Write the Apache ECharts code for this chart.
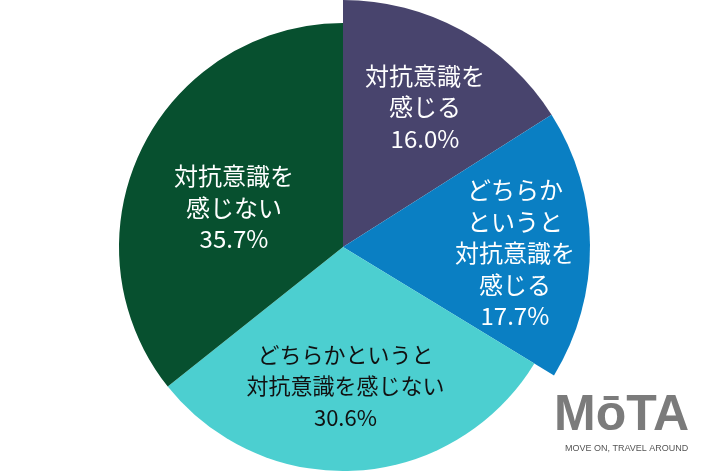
<!DOCTYPE html>
<html>
<head>
<meta charset="utf-8">
<script src="https://cdn.jsdelivr.net/npm/echarts@6/dist/echarts.min.js"></script>
<style>html,body{margin:0;padding:0;background:#fff;}#c{width:710px;height:473px;}</style>
</head>
<body>
<div id="c"></div>
<script>
const categories = ['対抗意識を\n感じる', 'どちらか\nというと\n対抗意識を\n感じる', 'どちらかというと\n対抗意識を感じない', '対抗意識を\n感じない'];
const values = [16.0, 17.7, 30.6, 35.7];
const colors = ['#48446d', '#0a7fc3', '#4ccfd0', '#07502f'];
const textColors = ['#ffffff', '#ffffff', '#111111', '#ffffff'];

const CX = 343, CY = 247;
const R_BIG = 247, R_SMALL = 224;
const labelR = [162, 172, 139, 116];
const labelAngleAdj = [1.6, 2.5, 2.6, -5.8];
const labelSizes = [24, 24, 22, 24];
const total = values.reduce((a, b) => a + b, 0);
const midAngles = [];
let acc = 0;
values.forEach(v => { midAngles.push((acc + v / 2) / total * 2 * Math.PI); acc += v; });

function makeData(showIdx) {
  return values.map((v, i) => {
    const show = showIdx.indexOf(i) >= 0;
    return {
      value: v,
      name: categories[i],
      itemStyle: { color: show ? colors[i] : 'rgba(0,0,0,0)' },
      label: { show: show, color: textColors[i], fontSize: labelSizes[i] }
    };
  });
}

function layout(params) {
  const i = params.dataIndex;
  const a = midAngles[i] + labelAngleAdj[i] * Math.PI / 180;
  return {
    x: CX + labelR[i] * Math.sin(a),
    y: CY - labelR[i] * Math.cos(a),
    align: 'center',
    verticalAlign: 'middle'
  };
}

const labelCfg = {
  position: 'inside',
  fontFamily: '"Noto Sans CJK JP", "Noto Sans", sans-serif',
  fontSize: 24,
  lineHeight: 31.5,
  align: 'center',
  formatter: p => p.name + '\n' + p.value.toFixed(1) + '%'
};

const chart = echarts.init(document.getElementById('c'), null, { renderer: 'canvas' });
chart.setOption({
  animation: false,
  series: [
    {
      type: 'pie', center: [CX, CY], radius: [0, R_BIG], startAngle: 90, clockwise: true,
      silent: true, label: labelCfg, labelLine: { show: false }, labelLayout: layout,
      emphasis: { disabled: true },
      data: makeData([0, 1])
    },
    {
      type: 'pie', center: [CX, CY], radius: [0, R_SMALL], startAngle: 90, clockwise: true,
      silent: true, label: labelCfg, labelLine: { show: false }, labelLayout: layout,
      emphasis: { disabled: true },
      data: makeData([2, 3])
    }
  ],
  graphic: [
    { type: 'text', left: 554, top: 391, style: { text: 'MōTA', font: 'bold 50px "Liberation Sans", Arial, sans-serif', fill: '#7b7b7b' } },
    { type: 'text', left: 565, top: 444, style: { text: 'MOVE ON, TRAVEL AROUND', font: '9px "Liberation Sans", Arial, sans-serif', fill: '#555555' } }
  ]
});
</script>
</body>
</html>
